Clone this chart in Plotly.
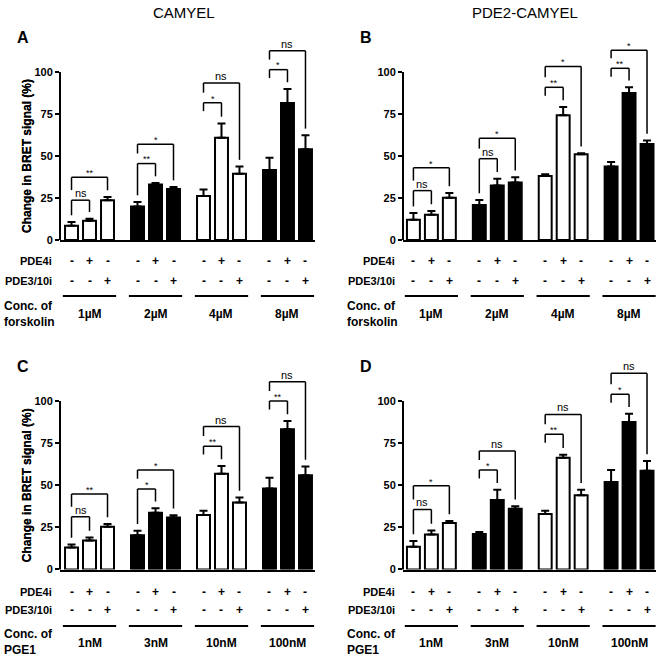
import plotly.graph_objects as go

W, H = 661, 656

# ---------------- data ----------------
conc_fsk = ["1µM", "2µM", "4µM", "8µM"]
conc_pge = ["1nM", "3nM", "10nM", "100nM"]
pde4i_signs = ["-", "+", "-"]
pde310_signs = ["-", "-", "+"]
group_filled = [False, True, False, True]
y_ticks = [0, 25, 50, 75, 100]

A_mean = [8.5, 11.5, 23.6, 20.0, 33.1, 30.4, 26.2, 60.9, 39.5, 41.7, 81.5, 54.0]
A_err = [2.2, 1.2, 2.0, 2.6, 0.8, 1.1, 3.8, 8.5, 4.2, 7.3, 8.4, 8.3]
B_mean = [12.0, 15.0, 25.2, 20.8, 32.5, 34.3, 38.1, 74.2, 51.0, 43.8, 87.5, 57.1]
B_err = [4.0, 2.3, 2.8, 3.0, 4.0, 3.0, 1.0, 5.0, 0.6, 2.6, 3.4, 2.2]
C_mean = [13.1, 17.2, 25.4, 20.4, 33.7, 30.8, 32.3, 56.9, 39.7, 48.0, 83.2, 55.9]
C_err = [1.8, 1.8, 1.6, 2.6, 2.6, 1.4, 2.6, 4.6, 3.0, 6.5, 4.9, 5.2]
D_mean = [13.5, 20.8, 27.6, 21.0, 41.2, 36.0, 33.0, 66.3, 44.0, 51.9, 87.5, 58.6]
D_err = [3.4, 2.4, 1.2, 1.2, 6.1, 1.6, 1.9, 1.8, 3.3, 7.1, 5.0, 5.8]

# (group, bar_i, bar_j, bracket height, label)
A_sig = [(0, 0, 1, 23.7, "ns"), (0, 0, 2, 37.3, "**"), (1, 0, 1, 45.5, "**"), (1, 0, 2, 57.0, "*"),
         (2, 0, 1, 81.7, "*"), (2, 0, 2, 93.5, "ns"), (3, 0, 1, 101.4, "*"), (3, 0, 2, 112.6, "ns")]
B_sig = [(0, 0, 1, 29.4, "ns"), (0, 0, 2, 43.0, "*"), (1, 0, 1, 48.4, "ns"), (1, 0, 2, 60.5, "*"),
         (2, 0, 1, 90.9, "**"), (2, 0, 2, 103.2, "*"), (3, 0, 1, 102.2, "**"), (3, 0, 2, 113.0, "*")]
C_sig = [(0, 0, 1, 31.3, "ns"), (0, 0, 2, 44.8, "**"), (1, 0, 1, 47.8, "*"), (1, 0, 2, 59.1, "*"),
         (2, 0, 1, 73.2, "**"), (2, 0, 2, 84.8, "ns"), (3, 0, 1, 100.0, "**"), (3, 0, 2, 111.5, "ns")]
D_sig = [(0, 0, 1, 35.6, "ns"), (0, 0, 2, 49.7, "*"), (1, 0, 1, 59.0, "*"), (1, 0, 2, 70.3, "ns"),
         (2, 0, 1, 80.2, "**"), (2, 0, 2, 92.0, "ns"), (3, 0, 1, 104.0, "*"), (3, 0, 2, 116.4, "ns")]

FONT = "Liberation Sans, Arial, sans-serif"
BLACK = "#000000"
GSTEP = 3.667
BARW = 0.72
YMAX = 125

def px(x):
    return x / W

def py(y):
    return 1 - y / H

panels = [
    dict(k="", mean=A_mean, err=A_err, sig=A_sig, xd=(60, 315), y0=240, yscale=1.68,
         xr=(-0.64, 13.53), letter="A", conc=conc_fsk, agent="forskolin",
         rows=dict(p4=261, p3=280.5, line=296, cond=314, lab=314)),
    dict(k="2", mean=B_mean, err=B_err, sig=B_sig, xd=(403, 656), y0=240, yscale=1.68,
         xr=(-0.58, 13.5), letter="B", conc=conc_fsk, agent="forskolin",
         rows=dict(p4=261, p3=280.5, line=296, cond=314, lab=314)),
    dict(k="3", mean=C_mean, err=C_err, sig=C_sig, xd=(60, 315), y0=569.5, yscale=1.685,
         xr=(-0.64, 13.53), letter="C", conc=conc_pge, agent="PGE1",
         rows=dict(p4=592, p3=610, line=626, cond=642, lab=643)),
    dict(k="4", mean=D_mean, err=D_err, sig=D_sig, xd=(403, 656), y0=569.5, yscale=1.685,
         xr=(-0.58, 13.5), letter="D", conc=conc_pge, agent="PGE1",
         rows=dict(p4=592, p3=610, line=626, cond=642, lab=643)),
]

fig = go.Figure()
shapes = []
annots = []

def font(size):
    return dict(family=FONT, size=size, color=BLACK)

for p in panels:
    k = p["k"]
    xa, ya = "x" + k, "y" + k
    pos = [g * GSTEP + i for g in range(4) for i in range(3)]
    colors = [BLACK if group_filled[g] else "#ffffff" for g in range(4) for i in range(3)]
    fig.add_trace(go.Bar(
        x=pos, y=p["mean"], width=BARW, xaxis=xa, yaxis=ya,
        marker=dict(color=colors, line=dict(color=BLACK, width=2)),
        error_y=dict(type="data", symmetric=False, array=p["err"], arrayminus=[0] * len(p["err"]),
                     color=BLACK, thickness=2, width=4),
        showlegend=False, hoverinfo="skip",
    ))
    top_px = p["y0"] - YMAX * p["yscale"]
    fig.update_layout(**{
        "xaxis" + k: dict(domain=[px(p["xd"][0]), px(p["xd"][1])], range=list(p["xr"]), anchor=ya,
                          showline=True, linecolor=BLACK, linewidth=2, showticklabels=False,
                          ticks="", showgrid=False, zeroline=False, fixedrange=True),
        "yaxis" + k: dict(domain=[py(p["y0"]), py(top_px)], range=[0, YMAX], anchor=xa,
                          showline=False, ticks="outside", ticklen=4, tickwidth=2, tickcolor=BLACK,
                          tickvals=y_ticks, ticktext=[str(v) for v in y_ticks],
                          tickfont=dict(family=FONT, size=11, color=BLACK, weight="bold"),
                          showgrid=False, zeroline=False, fixedrange=True),
    })
    shapes.append(dict(type="line", xref=xa + " domain", yref=ya + " domain", x0=0, x1=0,
                       y0=0, y1=100 / YMAX, line=dict(color=BLACK, width=2)))
    annots.append(dict(xref="paper", yref=ya + " domain", x=px(27), y=50 / YMAX,
                       text="<b>Change in BRET signal (%)</b>", textangle=-90, showarrow=False,
                       font=font(12), xanchor="center", yanchor="middle"))
    annots.append(dict(xref="paper", yref="paper", x=px(p["xd"][0] - 37),
                       y=py(p["y0"] - 100 * p["yscale"] - 35),
                       text="<b>%s</b>" % p["letter"], showarrow=False,
                       font=font(16), xanchor="center", yanchor="middle"))
    mean, err = p["mean"], p["err"]
    inner_h = {}
    for (g, i, j, h, lab) in p["sig"]:
        if j == 1:
            inner_h[g] = h
    for (g, i, j, h, lab) in p["sig"]:
        xi = g * GSTEP + i
        xj = g * GSTEP + j
        top_i = mean[g * 3 + i] + err[g * 3 + i]
        top_j = mean[g * 3 + j] + err[g * 3 + j]
        if j == 1:
            left_bot = top_i + 4 if (h - top_i) < 25 else h - 5
        else:
            left_bot = inner_h.get(g, h - 10) + 6
        right_bot = top_j + 4
        ln = dict(color=BLACK, width=1.5)
        shapes.append(dict(type="line", xref=xa, yref=ya, x0=xi, x1=xj, y0=h, y1=h, line=ln))
        shapes.append(dict(type="line", xref=xa, yref=ya, x0=xi, x1=xi, y0=left_bot, y1=h, line=ln))
        shapes.append(dict(type="line", xref=xa, yref=ya, x0=xj, x1=xj, y0=right_bot, y1=h, line=ln))
        if lab == "ns":
            annots.append(dict(xref=xa, yref=ya, x=(xi + xj) / 2, y=h + 4.2, text="ns", showarrow=False,
                               font=font(11), xanchor="center", yanchor="middle"))
        else:
            annots.append(dict(xref=xa, yref=ya, x=(xi + xj) / 2, y=h + 2.5, text=lab, showarrow=False,
                               font=font(9), xanchor="center", yanchor="middle"))
    r = p["rows"]
    for lbl, yy in (("PDE4i", r["p4"]), ("PDE3/10i", r["p3"])):
        annots.append(dict(xref="paper", yref="paper", x=px(p["xd"][0] - 6), y=py(yy), text="<b>%s</b>" % lbl,
                           showarrow=False, font=font(11), xanchor="right", yanchor="middle"))
    for g in range(4):
        for i in range(3):
            x = g * GSTEP + i
            annots.append(dict(xref=xa, yref="paper", x=x, y=py(r["p4"]), text="<b>%s</b>" % pde4i_signs[i],
                               showarrow=False, font=font(12), xanchor="center", yanchor="middle"))
            annots.append(dict(xref=xa, yref="paper", x=x, y=py(r["p3"]), text="<b>%s</b>" % pde310_signs[i],
                               showarrow=False, font=font(12), xanchor="center", yanchor="middle"))
        shapes.append(dict(type="line", xref=xa, yref="paper", x0=g * GSTEP - 0.48, x1=g * GSTEP + 2.48,
                           y0=py(r["line"]), y1=py(r["line"]), line=dict(color=BLACK, width=2)))
        annots.append(dict(xref=xa, yref="paper", x=g * GSTEP + 1, y=py(r["lab"]), text="<b>%s</b>" % p["conc"][g],
                           showarrow=False, font=font(12), xanchor="center", yanchor="middle"))
    annots.append(dict(xref="paper", yref="paper", x=px(p["xd"][0] - 58), y=py(r["cond"]),
                       text="<b>Conc. of<br>%s</b>" % p["agent"], showarrow=False, align="left",
                       font=font(12), xanchor="left", yanchor="middle"))

annots.append(dict(xref="paper", yref="paper", x=px(184), y=py(12), text="CAMYEL", showarrow=False,
                   font=font(15), xanchor="center", yanchor="middle"))
annots.append(dict(xref="paper", yref="paper", x=px(525), y=py(12), text="PDE2-CAMYEL", showarrow=False,
                   font=font(15), xanchor="center", yanchor="middle"))

fig.update_layout(template="none", width=W, height=H, margin=dict(l=0, r=0, t=0, b=0),
                  paper_bgcolor="#ffffff", plot_bgcolor="rgba(0,0,0,0)", shapes=shapes,
                  annotations=annots, bargap=0, font=dict(family=FONT, color=BLACK))
fig.write_html("out.html", config={"displayModeBar": False, "staticPlot": True},
               post_script="document.body.style.margin='0';document.body.style.overflow='hidden';")
